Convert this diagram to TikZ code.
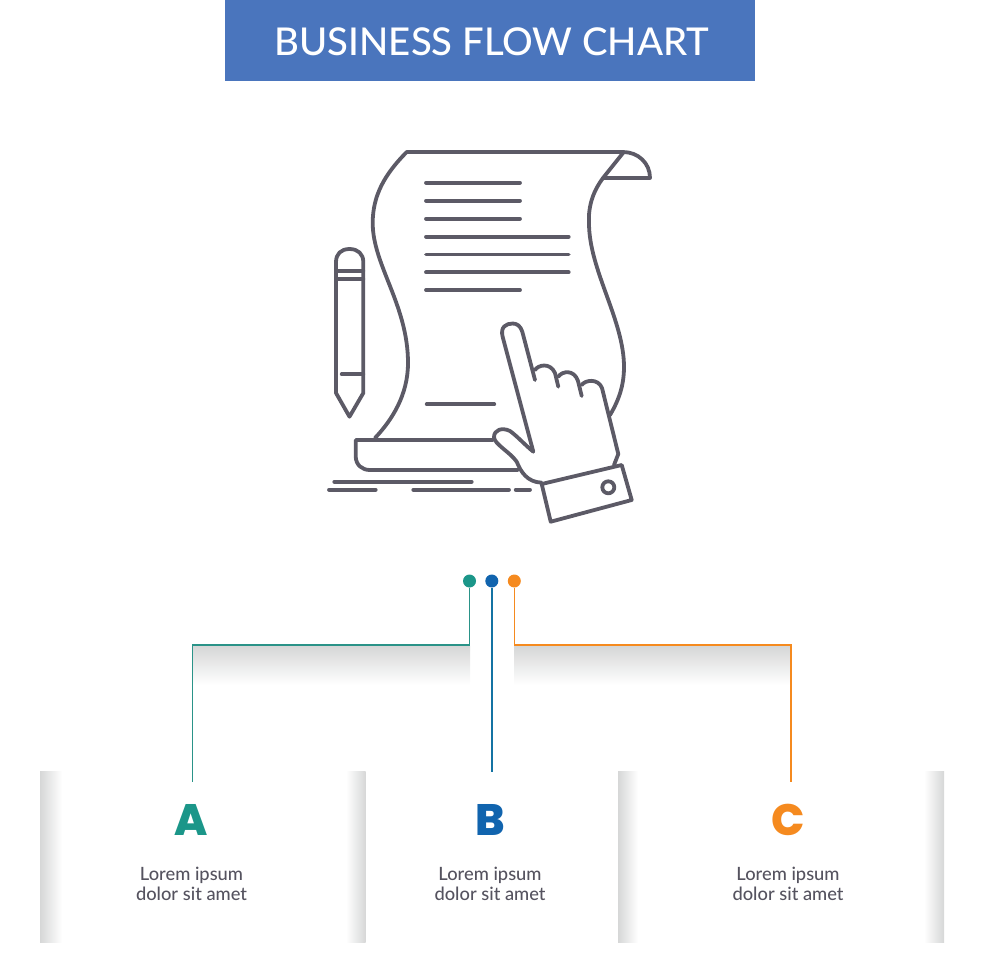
\documentclass[tikz,border=0pt]{standalone}
\usepackage{fontspec}
\usepackage{xcolor}
\setmainfont{Lato}[UprightFont=* Medium]
\newfontfamily\heavyfont{Poppins}[UprightFont=* ExtraBold]
\definecolor{banner}{HTML}{4A75BD}
\definecolor{inkgray}{HTML}{5C5A66}
\definecolor{labelgray}{HTML}{55535F}
\definecolor{shadegray}{HTML}{D6D7D7}
\definecolor{tealA}{HTML}{1B9689}
\definecolor{blueB}{HTML}{1164AE}
\definecolor{orangeC}{HTML}{F58A1F}
\begin{document}
\begin{tikzpicture}[x=1pt,y=-1pt]
\tikzstyle{icon} = [draw=inkgray, line width=3.8pt, line cap=round, line join=round]
\tikzstyle{dot} = [circle, minimum size=13pt, inner sep=0pt]
\tikzstyle{link} = [line width=1.6pt]
\tikzstyle{letter} = [font=\heavyfont\fontsize{44}{44}\selectfont]
\tikzstyle{caption} = [align=center, text=labelgray, font=\fontsize{18.3}{20.5}\selectfont]
\useasboundingbox (0,0) rectangle (980,980);
% title
\node [fill=banner, minimum width=530pt, minimum height=81pt, inner sep=0pt] (banner) at (490,40.5) {};
\node [text=white, font=\fontsize{38.3}{40}\selectfont] (title) at (492,42) {BUSINESS FLOW CHART};
% sheet
\draw [icon] (623,152) -- (406.7,152) .. controls (385,174) and (372.7,195) .. (372.7,223)
	.. controls (372.7,265) and (408,305) .. (408,363) .. controls (408,395) and (392,420) .. (375,438);
\draw [icon] (603,178) .. controls (594,190) and (588,205) .. (589,223)
	.. controls (589,270) and (624,320) .. (624,367) .. controls (624,385) and (619,400) .. (610,415);
\draw [icon] (623,152) .. controls (638,152) and (650,163) .. (650,178) -- (603,178) -- (623,153);
\foreach \y in {182.7,200.7,218.7,290}
	\draw [icon] (426,\y) -- (520,\y);
\foreach \y in {236.7,254.5,272.3}
	\draw [icon] (426,\y) -- (568.7,\y);
\draw [icon] (426.7,404.3) -- (494.3,404.3);
% pencil
\draw [icon] (336,393) -- (336,262) .. controls (336,254) and (341,249) .. (349.5,249)
	.. controls (358,249) and (363.3,254) .. (363.3,262) -- (363.3,393) -- (349.5,416.7) -- cycle;
\draw [icon] (336,270.7) -- (363.3,270.7);
\draw [icon] (336,279) -- (363.3,279);
\draw [icon] (341.7,374.3) -- (363.3,374.3);
% base and ground
\draw [icon] (493,440) -- (355.7,440) -- (355.7,456) .. controls (355.7,465) and (362,470) .. (370,470) -- (518,470);
\draw [icon] (334.3,481.7) -- (471.7,481.7);
\draw [icon] (329,489.7) -- (375.7,489.7);
\draw [icon] (413.3,489.7) -- (509,489.7);
\draw [icon] (515.7,489.7) -- (530,489.7);
% hand
\draw [icon] (533.3,451.7) -- (502.7,337) .. controls (500,327) and (506,323.5) .. (512.7,323.5)
	.. controls (517,323.5) and (520.5,326) .. (522.3,331.7) -- (535,380);
\draw [icon] (535,370) .. controls (538,365) and (550,362) .. (555,373) -- (558.3,386.7);
\draw [icon] (558.3,376.7) .. controls (562,371) and (574,369) .. (578,381) -- (581.7,396);
\draw [icon] (581.7,385) .. controls (585,380) and (598,378) .. (602,388) -- (618.3,454) -- (614,465);
\draw [icon] (533.3,451.7) .. controls (525,445) and (517,436) .. (510,431)
	.. controls (502,427) and (494,430) .. (494,437) .. controls (494,444) and (510,452) .. (516.7,461.7)
	.. controls (521,472) and (527,482) .. (541.7,482.7);
\draw [icon] (541.7,484) -- (621.7,465) -- (631.7,500) -- (550.7,521.7) -- cycle;
\draw [icon] (608.3,487.3) circle (6pt);
% shading
\shade [top color=shadegray, bottom color=white] (193,646) rectangle (470,685);
\shade [top color=shadegray, bottom color=white] (514,646) rectangle (791,685);
\shade [left color=shadegray, right color=white] (40,771.7) rectangle (62,942.3);
\shade [left color=white, right color=shadegray] (346,771.7) rectangle (365.7,942.3);
\shade [left color=shadegray, right color=white] (618,771.7) rectangle (638,942.3);
\shade [left color=white, right color=shadegray] (924,771.7) rectangle (944,942.3);
% connectors
\node [dot, fill=tealA] (dotA) at (469.5,581) {};
\node [dot, fill=blueB] (dotB) at (491.8,581) {};
\node [dot, fill=orangeC] (dotC) at (514.3,581) {};
\coordinate (kneeA) at (192.4,645);
\coordinate (kneeC) at (791,645);
\coordinate (endA) at (192.4,781.7);
\coordinate (endB) at (491.8,771.7);
\coordinate (endC) at (791,781.7);
\draw [link, draw=tealA!85!gray] (dotA) |- (kneeA) -- (endA);
\draw [link, draw=blueB!70!tealA] (dotB) -- (endB);
\draw [link, draw=orangeC] (dotC) |- (kneeC) -- (endC);
% captions
\node [letter, text=tealA] (letterA) at (191.5,820) {A};
\node [letter, text=blueB] (letterB) at (490,820) {B};
\node [letter, text=orangeC] (letterC) at (788,820) {C};
\node [caption] (textA) at (191.5,884) {Lorem ipsum\\dolor sit amet};
\node [caption] (textB) at (490,884) {Lorem ipsum\\dolor sit amet};
\node [caption] (textC) at (788,884) {Lorem ipsum\\dolor sit amet};
\end{tikzpicture}
\end{document}
